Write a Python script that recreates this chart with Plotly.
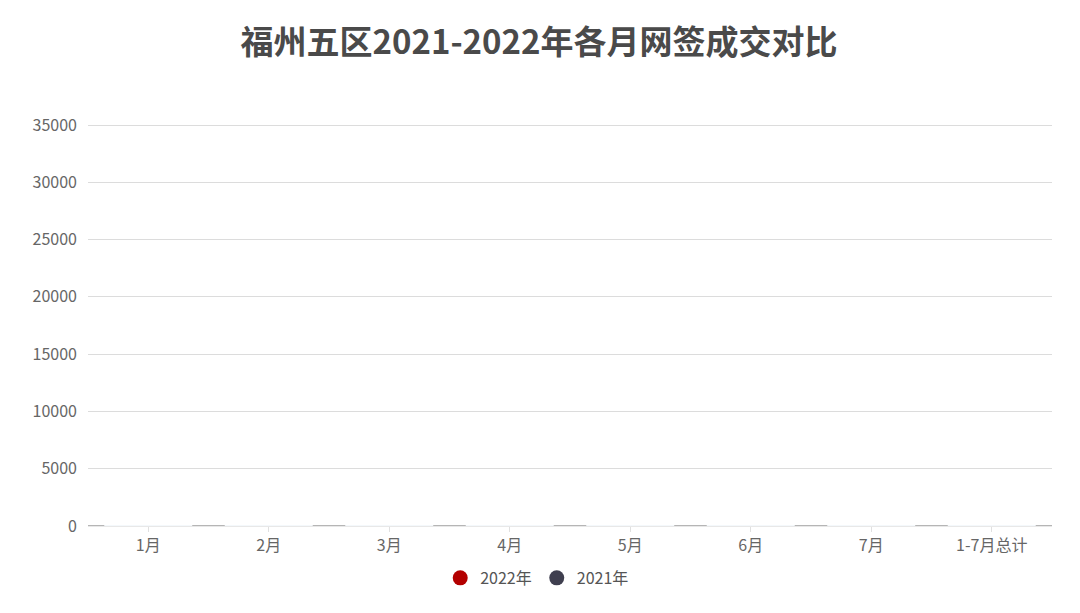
import plotly.graph_objects as go

# categories and series (bars read as zero height in the reference)
months = ['1月', '2月', '3月', '4月', '5月', '6月', '7月', '1-7月总计']
sales_2022 = [0, 0, 0, 0, 0, 0, 0, 0]
sales_2021 = [0, 0, 0, 0, 0, 0, 0, 0]
y_ticks = [0, 5000, 10000, 15000, 20000, 25000, 30000, 35000]

series = [('2022年', sales_2022, '#b30000'),
          ('2021年', sales_2021, '#3f3f4f')]

font_cn = 'Noto Sans CJK SC'

fig = go.Figure()
for name, vals, color in series:
    fig.add_trace(go.Bar(x=months, y=vals, name=name, marker_color=color,
                         showlegend=False))
# round legend markers, as in the original
for name, vals, color in series:
    fig.add_trace(go.Scatter(x=[None], y=[None], mode='markers', name=name,
                             marker=dict(symbol='circle', size=15,
                                         color=color)))

# darker segments on the zero line at each category boundary
for i in range(len(months) + 1):
    fig.add_shape(type='line', xref='x', yref='y',
                  x0=i - 0.5 - 0.135, x1=i - 0.5 + 0.135, y0=0, y1=0,
                  line=dict(color='#b5b5b5', width=2), layer='above')

# page body has an 8px margin, so margins are shifted to compensate;
# y range runs a bit past 35000 so its gridline is drawn
fig.update_layout(
    title=dict(text='<b>福州五区2021-2022年各月网签成交对比</b>',
               x=0.4917, xanchor='center', y=0.9445, yanchor='middle',
               font=dict(family=font_cn, size=33, color='#4a4a4a')),
    width=1080, height=613,
    margin=dict(l=80, r=36, t=112, b=95),
    plot_bgcolor='white', paper_bgcolor='white',
    font=dict(family=font_cn, size=16, color='#666666'),
    barmode='group',
    showlegend=True,
    legend=dict(orientation='h', x=0.466, xanchor='center', y=-0.128,
                yanchor='middle', font=dict(size=16, color='#555555'),
                itemwidth=30),
    xaxis=dict(range=[-0.5, len(months) - 0.5], showgrid=False,
               automargin=False,
               showline=True, linecolor='#e8e8e8', linewidth=1,
               ticks='outside', ticklen=5, tickcolor='#e0e0e0',
               tickfont=dict(size=16, color='#666666')),
    yaxis=dict(range=[0, 35436], tickvals=y_ticks,
               ticktext=[str(v) for v in y_ticks],
               automargin=False,
               showgrid=True, gridcolor='#dcdcdc', gridwidth=1,
               zeroline=False, showline=False, ticks='',
               ticklabelstandoff=10,
               tickfont=dict(size=16, color='#666666')),
)

fig.write_html('out.html')
